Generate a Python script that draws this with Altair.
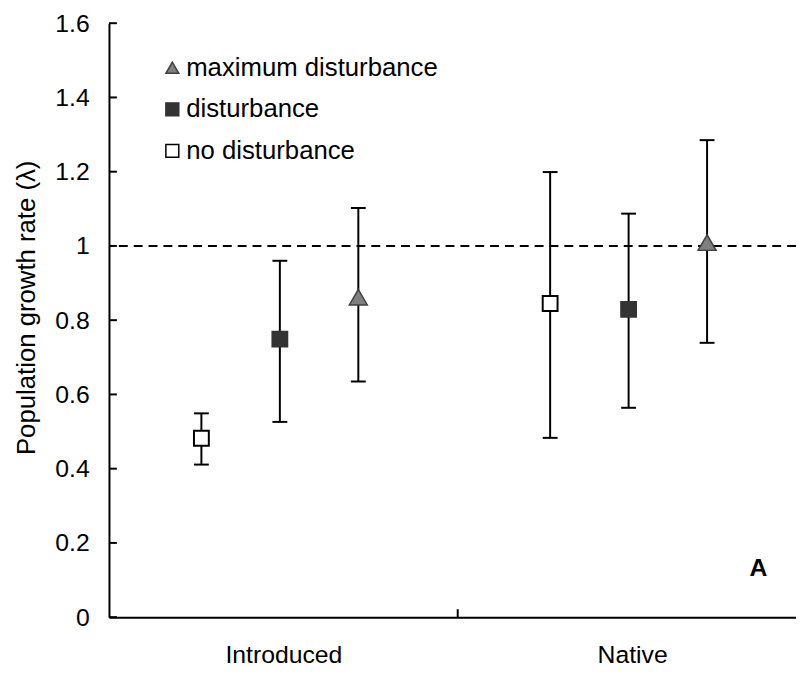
import json
import altair as alt
import pandas as pd

# ---- data ----
groups = ["Introduced", "Native"]
treatments = ["no disturbance", "disturbance", "maximum disturbance"]
legend_order = ["maximum disturbance", "disturbance", "no disturbance"]

row_group = ["Introduced", "Introduced", "Introduced", "Native", "Native", "Native"]
row_treat = ["no disturbance", "disturbance", "maximum disturbance",
             "no disturbance", "disturbance", "maximum disturbance"]
mean_vals = [0.482, 0.749, 0.862, 0.845, 0.829, 1.009]
low_vals = [0.411, 0.526, 0.635, 0.483, 0.564, 0.739]
high_vals = [0.549, 0.960, 1.102, 1.199, 1.087, 1.285]

y_ticks = [0, 0.2, 0.4, 0.6, 0.8, 1.0, 1.2, 1.4, 1.6]
reference_line = [1.0]
panel_label = ["A"]

df = pd.DataFrame({
    "group": row_group,
    "treatment": row_treat,
    "mean": mean_vals,
    "low": low_vals,
    "high": high_vals,
})
ticks_df = pd.DataFrame({"v": y_ticks})
ref_df = pd.DataFrame({"v": reference_line})
lab_df = pd.DataFrame({"label": panel_label, "gx": [1.862], "gy": [0.133]})

W, H = 694, 600
FONT = "Liberation Sans"
FS = 25

xscale = alt.Scale(domain=[0, 1.97], nice=False, zero=False)
yscale = alt.Scale(domain=[0, 1.6], nice=False)

x_axis = alt.Axis(
    values=[0.5, 1.5],
    labelExpr=f"{json.dumps(groups)}[floor(datum.value)]",
    ticks=False, tickSize=0, grid=False, title=None,
    labelFontSize=FS, labelFont=FONT, labelColor="black",
    labelPadding=26, domainColor="black", domainWidth=2,
)
y_axis = alt.Axis(
    values=y_ticks, format="~g",
    ticks=False, tickSize=0, grid=False,
    title="Population growth rate (λ)",
    titleFontSize=26, titleFont=FONT, titleFontWeight="normal", titleColor="black",
    titleAngle=270, titleX=-75, titleY=287, titleAlign="center", titleBaseline="alphabetic",
    labelFontSize=FS, labelFont=FONT, labelColor="black", labelPadding=20,
    labelBaseline="middle",
    domainColor="black", domainWidth=2,
)

base = alt.Chart(df).transform_calculate(
    gi=f"indexof({json.dumps(groups)}, datum.group)",
    ti=f"indexof({json.dumps(treatments)}, datum.treatment)",
).transform_calculate(
    xpos="datum.gi + 0.49 + (datum.ti - 1) * 0.225"
)

X = alt.X("xpos:Q", scale=xscale, axis=x_axis)

bars = base.mark_rule(color="black", strokeWidth=2).encode(
    x=X,
    y=alt.Y("low:Q", scale=yscale, axis=y_axis),
    y2="high:Q",
)
cap_lo = base.mark_tick(orient="horizontal", size=15, thickness=2, color="black", opacity=1).encode(
    x=X, y=alt.Y("low:Q", scale=yscale)
)
cap_hi = base.mark_tick(orient="horizontal", size=15, thickness=2, color="black", opacity=1).encode(
    x=X, y=alt.Y("high:Q", scale=yscale)
)

leg = alt.Legend(
    orient="none", legendX=51, legendY=32, padding=0, title=None,
    labelFontSize=26, labelFont=FONT, labelColor="black", labelLimit=0,
    symbolSize=170, symbolStrokeWidth=1.5, symbolOpacity=1,
    rowPadding=16, labelOffset=1,
)

shape_enc = alt.Shape("treatment:N", legend=leg,
                      scale=alt.Scale(domain=legend_order,
                                      range=["triangle-up", "square", "square"]))
fill_enc = alt.Fill("treatment:N", legend=leg,
                    scale=alt.Scale(domain=legend_order,
                                    range=["#7f7f7f", "#333333", "#ffffff"]))
stroke_enc = alt.Stroke("treatment:N", legend=leg,
                        scale=alt.Scale(domain=legend_order,
                                        range=["#404040", "#333333", "#000000"]))

tri = base.transform_filter("datum.treatment == 'maximum disturbance'").mark_point(
    filled=True, opacity=1, size=330, strokeWidth=1.5
).encode(x=X, y=alt.Y("mean:Q", scale=yscale), shape=shape_enc, fill=fill_enc, stroke=stroke_enc)

sq = base.transform_filter("datum.treatment != 'maximum disturbance'").mark_point(
    filled=True, opacity=1, size=225, strokeWidth=2
).encode(x=X, y=alt.Y("mean:Q", scale=yscale), shape=shape_enc, fill=fill_enc, stroke=stroke_enc)

dash = alt.Chart(ref_df).mark_rule(color="black", strokeWidth=2, strokeDash=[9, 6]).encode(
    y=alt.Y("v:Q", scale=yscale)
)

yticks_in = alt.Chart(ticks_df).mark_rule(color="black", strokeWidth=2).encode(
    x=alt.value(0), x2=alt.value(8), y=alt.Y("v:Q", scale=yscale)
)
xtick_in = alt.Chart(pd.DataFrame({"v": [1.0]})).mark_rule(color="black", strokeWidth=2).encode(
    x=alt.X("v:Q", scale=xscale), y=alt.value(H), y2=alt.value(H - 8)
)

label = alt.Chart(lab_df).mark_text(
    font=FONT, fontSize=FS, fontWeight="bold", color="black", align="center", baseline="middle"
).encode(x=alt.X("gx:Q", scale=xscale), y=alt.Y("gy:Q", scale=yscale), text="label:N")

chart = alt.layer(
    dash, bars, cap_lo, cap_hi, tri, sq, yticks_in, xtick_in, label
).properties(
    width=W, height=H,
    autosize=alt.AutoSizeParams(type="none"),
    padding={"left": 102, "top": 12, "right": 0, "bottom": 48},
    background="white",
).configure(
    font=FONT
).configure_view(
    stroke=None
)

chart.save("out.html", embed_options={"renderer": "svg", "actions": False})
